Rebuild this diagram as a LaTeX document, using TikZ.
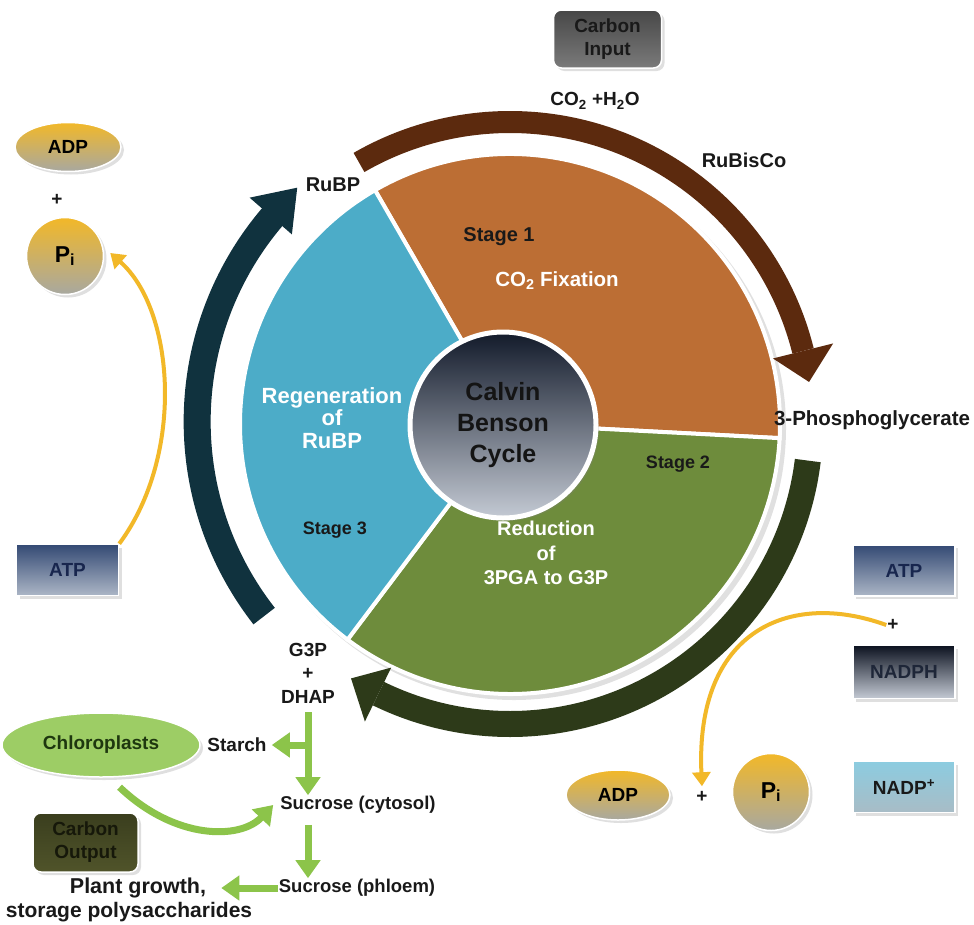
\documentclass[tikz,border=0pt]{standalone}
\usepackage{fontspec}
\setmainfont{Liberation Sans}
\usetikzlibrary{arrows.meta,shadows,shapes.geometric,calc}
\definecolor{segorange}{RGB}{188,110,52}
\definecolor{seggreen}{RGB}{110,140,60}
\definecolor{segblue}{RGB}{76,172,200}
\definecolor{arrbrown}{RGB}{92,42,14}
\definecolor{arrgreen}{RGB}{45,58,25}
\definecolor{arrteal}{RGB}{16,50,62}
\definecolor{goldc}{RGB}{242,184,40}
\definecolor{greyc}{RGB}{168,168,160}
\definecolor{leafc}{RGB}{140,196,74}
\definecolor{navyc}{RGB}{52,74,116}
\definecolor{navylt}{RGB}{172,182,198}
\definecolor{navytx}{RGB}{24,38,78}
\definecolor{coretop}{RGB}{18,26,42}
\definecolor{corebot}{RGB}{196,202,212}
\begin{document}
\begin{tikzpicture}[x=1pt,y=-1pt,
  font=\bfseries\fontsize{19}{23}\selectfont,
  lbl/.style={text=black!90, align=center, inner sep=1pt},
  wlbl/.style={text=white, align=center, inner sep=1pt},
  shad/.style={drop shadow={opacity=0.25,shadow xshift=3pt,shadow yshift=-3pt}},
  sqbox/.style={rectangle, minimum width=102, minimum height=51, draw=white, line width=1.5, shad, align=center},
  cbox/.style={rectangle, rounded corners=8, minimum width=108, minimum height=58, draw=white, line width=1.5, shad, align=center},
  goldoval/.style={ellipse, minimum width=106, minimum height=49, top color=goldc, bottom color=greyc, draw=white, line width=1.5, shad, text=black},
  goldcirc/.style={circle, minimum size=77, top color=goldc, bottom color=greyc, draw=white, line width=1.5, shad, text=black, inner sep=0},
  yarrow/.style={goldc, line width=4, -{Triangle[width=18pt,length=14pt]}},
  garrow/.style={leafc, line width=7, -{Triangle[width=24pt,length=18pt]}},
  seg/.style={draw=white, line width=4},
]
\useasboundingbox (0,0) rectangle (974,924);
\fill[white] (0,0) rectangle (974,924);
\coordinate (c) at (510,424);

% pie segments
\fill[black, opacity=0.12] ([shift={(4,4)}]c) circle[radius=272];
\fill[segorange, seg] (c) -- ([shift={(-120:270)}]c) arc[start angle=-120, end angle=3, radius=270] -- cycle;
\fill[seggreen, seg] (c) -- ([shift={(3:270)}]c) arc[start angle=3, end angle=127, radius=270] -- cycle;
\fill[segblue, seg] (c) -- ([shift={(127:270)}]c) arc[start angle=127, end angle=240, radius=270] -- cycle;

% inner circle
\node[circle, minimum size=186, inner sep=0, top color=coretop, bottom color=corebot, draw=white, line width=5, shad,
  font=\bfseries\fontsize{25}{31}\selectfont, text=black!92, align=center] (calvin) at (503,425) {Calvin\\Benson\\Cycle};

% big arrows
\draw[arrbrown, line width=22] ([shift={(-120:302)}]c) arc[start angle=-120, end angle=-14, radius=302];
\fill[arrbrown] ([shift={(-14:271)}]c) -- ([shift={(-14:333)}]c) -- ([shift={(-8:302)}]c) -- cycle;
\draw[arrgreen, line width=26] ([shift={(7:300)}]c) arc[start angle=7, end angle=116, radius=300];
\fill[arrgreen] ([shift={(116:271)}]c) -- ([shift={(116:331)}]c) -- ([shift={(122:300)}]c) -- cycle;
\draw[arrteal, line width=27] ([shift={(142:312)}]c) arc[start angle=142, end angle=221, radius=316];
\fill[arrteal] ([shift={(221:289)}]c) -- ([shift={(221:345)}]c) -- ([shift={(228:318)}]c) -- cycle;

% labels on the cycle
\node[lbl, font=\bfseries\fontsize{20}{24}\selectfont] (stage1) at (499,237) {Stage 1};
\node[wlbl, font=\bfseries\fontsize{20.5}{24}\selectfont] (co2fix) at (557,281) {CO\textsubscript{2} Fixation};
\node[wlbl, font=\bfseries\fontsize{22}{22.5}\selectfont] (regen) at (332,418) {Regeneration\\of\\RuBP};
\node[lbl, font=\bfseries\fontsize{18}{22}\selectfont] (stage2) at (678,464) {Stage 2};
\node[lbl, font=\bfseries\fontsize{18}{22}\selectfont] (stage3) at (335,530) {Stage 3};
\node[wlbl, font=\bfseries\fontsize{20}{24.5}\selectfont] (reduct) at (546,553) {Reduction\\of\\3PGA to G3P};

% outer labels
\node[cbox, top color=black!72, bottom color=black!52, text=black!90] (cin) at (607.5,39) {Carbon\\Input};
\node[lbl] (co2) at (595,101) {CO\textsubscript{2} +H\textsubscript{2}O};
\node[lbl, font=\bfseries\fontsize{20}{24}\selectfont] (rubisco) at (744,160) {RuBisCo};
\node[lbl, font=\bfseries\fontsize{20}{24}\selectfont] (rubp) at (333,185) {RuBP};
\node[lbl, font=\bfseries\fontsize{20.5}{24}\selectfont] (pga) at (872,420) {3-Phosphoglycerate};
\node[lbl, font=\bfseries\fontsize{19}{23.5}\selectfont] (g3p) at (308,673) {G3P\\+\\DHAP};

% left side
\node[goldoval] (adpL) at (68,147) {ADP};
\node[lbl] (plusL) at (57,200) {+};
\node[goldcirc, font=\bfseries\fontsize{23}{24}\selectfont] (piL) at (65,256) {P\textsubscript{i}};
\node[sqbox, top color=navyc, bottom color=navylt, text=navytx] (atpL) at (67.5,570) {ATP};
\draw[yarrow] (atpL.north east) .. controls (185,455) and (175,310) .. ([xshift=6pt,yshift=3pt]piL.east);

% right side
\node[sqbox, top color=navyc, bottom color=navylt, text=navytx] (atpR) at (904,570.5) {ATP};
\node[lbl] (plusR) at (893,625) {+};
\node[sqbox, minimum height=53, top color={rgb,255:red,12;green,18;blue,32}, bottom color={rgb,255:red,196;green,202;blue,212}, text={rgb,255:red,30;green,38;blue,56}] (nadph) at (904,672) {NADPH};
\node[sqbox, top color={rgb,255:red,140;green,204;blue,224}, bottom color={rgb,255:red,168;green,188;blue,198}, text=black!90] (nadp) at (904,787) {NADP\textsuperscript{+}};
\node[goldoval, minimum width=104, minimum height=50] (adpR) at (618,795) {ADP};
\node[lbl] (plusR2) at (702,797) {+};
\node[goldcirc, font=\bfseries\fontsize{23}{24}\selectfont] (piR) at (771,792) {P\textsubscript{i}};
\draw[yarrow] (plusR.west) .. controls (790,590) and (695,630) .. ([yshift=4pt]plusR2.north);

% bottom left
\node[ellipse, minimum width=198, minimum height=64, fill=leafc!85!white, draw=white, line width=1.5, shad, text={rgb,255:red,30;green,55;blue,15}] (chloro) at (101,745) {Chloroplasts};
\node[lbl] (starch) at (237,745) {Starch};
\node[lbl, font=\bfseries\fontsize{18.5}{22}\selectfont] (cyto) at (358,805) {Sucrose (cytosol)};
\node[lbl, font=\bfseries\fontsize{18.5}{22}\selectfont] (phloem) at (357,888) {Sucrose (phloem)};
\node[lbl, font=\bfseries\fontsize{21.5}{24}\selectfont] (plant) at (138,888) {Plant growth,};
\node[lbl, font=\bfseries\fontsize{21}{24}\selectfont] (storage) at (129,912) {storage polysaccharides};
\node[cbox, minimum width=105, minimum height=59, top color={rgb,255:red,58;green,62;blue,30}, bottom color={rgb,255:red,80;green,84;blue,42}, text={rgb,255:red,22;green,24;blue,10}] (cout) at (85.5,842.5) {Carbon\\Output};

\coordinate (br) at (g3p.south |- starch);
\draw[garrow] ([yshift=-8pt]g3p.south) -- (g3p.south |- cyto.north);
\draw[garrow] (br) -- ([xshift=4pt]starch.east);
\draw[garrow] ([yshift=-10pt]chloro.-60) .. controls (175,840) and (240,840) .. ([xshift=-6pt]cyto.west);
\draw[garrow] ([yshift=-10pt]cyto.south -| br) -- (br |- phloem.north);
\draw[garrow] (phloem.west) -- ([xshift=14pt]plant.east);
\end{tikzpicture}
\end{document}
